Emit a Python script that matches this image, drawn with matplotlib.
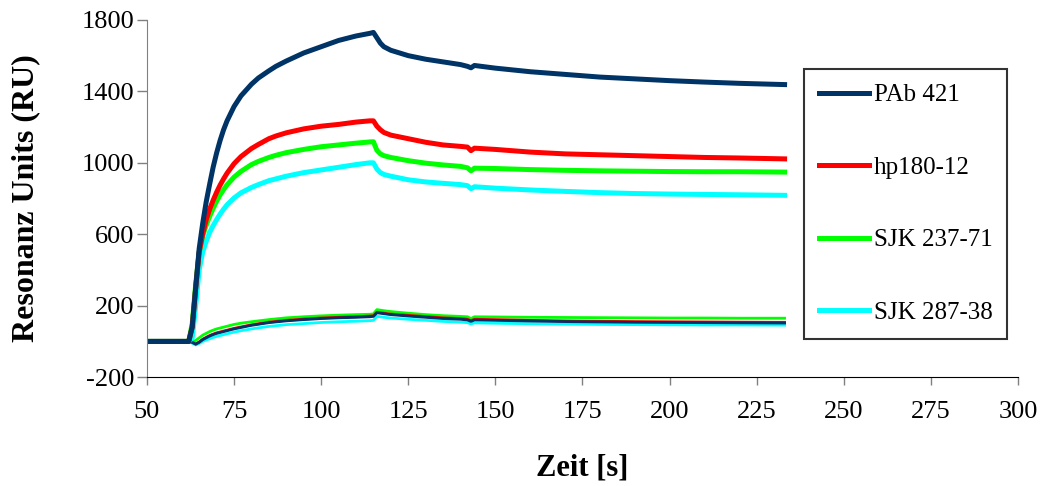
import numpy as np
import matplotlib
matplotlib.use('Agg')
import matplotlib.pyplot as plt

plt.rcParams['font.family'] = ['Liberation Serif', 'DejaVu Serif']
plt.rcParams['axes.unicode_minus'] = False

# Zeitpunkte [s]
t = [50, 62, 63, 64, 65, 66, 67, 68, 69, 70, 71, 72, 73, 75, 77, 80, 82, 85, 87,
     90, 95, 100, 105, 110, 114, 115, 116, 117, 118, 120, 125, 130, 135, 140,
     142, 143, 144, 150, 160, 170, 180, 190, 200, 210, 220, 233]

# Antikoerper-Bindung (dicke Linien)
pab421 = [0, 0, 80, 300, 520, 660, 780, 880, 975, 1055, 1125, 1185, 1235, 1315,
          1375, 1440, 1475, 1515, 1540, 1570, 1615, 1650, 1685, 1710, 1725, 1730,
          1700, 1670, 1650, 1630, 1600, 1580, 1565, 1550, 1540, 1532, 1545, 1530,
          1510, 1495, 1480, 1470, 1460, 1452, 1445, 1438]
hp180 = [0, 0, 80, 300, 500, 600, 680, 740, 790, 835, 875, 910, 942, 995, 1035,
         1080, 1103, 1135, 1150, 1168, 1190, 1205, 1215, 1228, 1235, 1235, 1205,
         1185, 1170, 1155, 1135, 1115, 1100, 1092, 1088, 1068, 1082, 1075, 1060,
         1050, 1045, 1040, 1035, 1030, 1027, 1022]
sjk237 = [0, 0, 100, 320, 500, 590, 650, 700, 745, 785, 820, 850, 877, 920, 952,
          990, 1008, 1030, 1042, 1057, 1075, 1090, 1100, 1110, 1117, 1118, 1070,
          1050, 1040, 1030, 1012, 998, 988, 980, 972, 955, 970, 968, 962, 958, 955,
          953, 951, 950, 950, 948]
sjk287 = [0, 0, 20, 200, 400, 500, 560, 610, 648, 682, 713, 740, 765, 803, 832,
          862, 878, 900, 910, 925, 945, 960, 975, 990, 1000, 1000, 965, 945, 935,
          925, 905, 893, 885, 878, 872, 855, 866, 858, 848, 840, 833, 828, 825, 823,
          821, 818]

# Kontrollen (duenne Linien)
ctrl_blue = [0, 0, -5, -15, -5, 10, 20, 30, 38, 45, 50, 55, 60, 70, 78, 90, 96,
             105, 109, 115, 122, 128, 132, 135, 138, 140, 160, 158, 155, 150, 142,
             135, 128, 124, 120, 112, 120, 118, 114, 111, 109, 107, 106, 105, 104,
             103]
ctrl_red = [0, 0, -5, -15, -3, 12, 23, 33, 41, 48, 53, 58, 63, 73, 81, 93, 99,
            108, 112, 118, 125, 131, 135, 138, 142, 144, 163, 161, 158, 153, 146,
            139, 132, 128, 124, 116, 124, 122, 118, 115, 113, 111, 110, 109, 108,
            107]
ctrl_green = [0, 0, 0, 5, 20, 35, 45, 55, 63, 70, 75, 80, 85, 95, 102, 110, 115,
              122, 126, 132, 138, 143, 147, 150, 152, 154, 178, 175, 172, 167, 158,
              150, 144, 140, 138, 128, 138, 137, 135, 134, 133, 132, 131, 131, 130,
              130]
ctrl_cyan = [0, 0, -10, -20, -12, 0, 8, 15, 22, 28, 33, 38, 43, 52, 60, 70, 76,
             84, 88, 94, 100, 106, 110, 113, 116, 118, 140, 138, 135, 131, 124, 118,
             112, 108, 105, 98, 104, 102, 99, 97, 95, 94, 93, 92, 92, 91]

labels = ['PAb 421', 'hp180-12', 'SJK 237-71', 'SJK 287-38']
colors = ['#003366', '#FF0000', '#00FF00', '#00FFFF']

fig = plt.figure(figsize=(10.42, 4.86), dpi=100)
ax = fig.add_axes([0.141, 0.224, 0.836, 0.735])

for y, c in zip([ctrl_cyan, ctrl_green, ctrl_red, ctrl_blue], colors[::-1]):
    ax.plot(t, y, color=c, lw=2.0)

handles = []
for y, c, lab in zip([sjk287, sjk237, hp180, pab421], colors[::-1], labels[::-1]):
    h, = ax.plot(t, y, color=c, lw=3.6, label=lab, solid_joinstyle='round')
    handles.append(h)
handles = handles[::-1]

ax.set_xlim(50, 300)
ax.set_ylim(-200, 1800)
ax.set_xticks(np.arange(50, 301, 25))
ax.set_yticks(np.arange(-200, 1801, 400))

for s in ['top', 'right']:
    ax.spines[s].set_visible(False)
ax.spines['left'].set_color('#808080')
ax.spines['bottom'].set_color('black')
ax.tick_params(axis='y', direction='out', length=7, width=1, color='#808080',
               labelsize=19, pad=2)
ax.tick_params(axis='x', direction='out', length=6, width=1, color='#808080',
               labelsize=19, pad=11)

ax.set_ylabel('Resonanz Units (RU)', fontsize=23, fontweight='bold', labelpad=30)
ax.set_xlabel('Zeit [s]', fontsize=22, fontweight='bold', labelpad=22)

leg = ax.legend(handles=handles, loc='upper left', bbox_to_anchor=(0.754, 0.863),
                fontsize=18, frameon=True, fancybox=False, edgecolor='black',
                handlelength=2.0, handletextpad=0.2, labelspacing=2.0,
                borderpad=0.6, borderaxespad=0)
leg.get_frame().set_linewidth(1.5)

fig.savefig('out.png', dpi=100)
